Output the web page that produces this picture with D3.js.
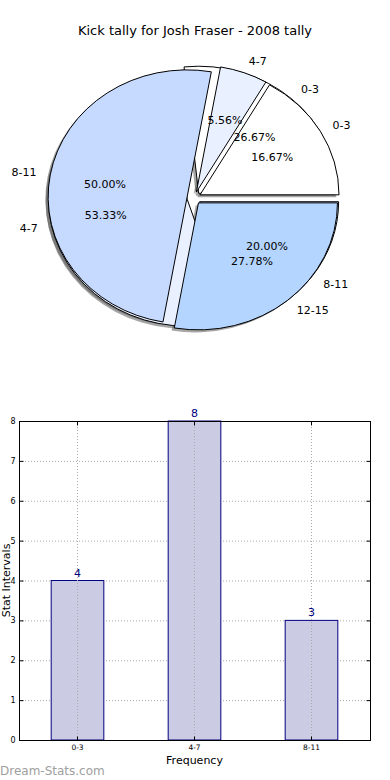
<!DOCTYPE html>
<html>
<head>
<meta charset="utf-8">
<script src="https://cdn.jsdelivr.net/npm/d3@7"></script>
<style>
  html, body { margin: 0; padding: 0; background: #fff; }
  svg { display: block; font-family: "DejaVu Sans", sans-serif; }
</style>
</head>
<body>
<div id="chart"></div>
<script>
// pie de cima (o que aparece inteiro) e pie de baixo (so aparecem as bordas)
const pieLabelsA = ["0-3", "4-7", "8-11", "12-15"];
const pieValuesA = [3, 1, 9, 5];
const pieLabelsB = ["0-3", "4-7", "8-11"];
const pieValuesB = [4, 8, 3];
const pieColors = ["#ffffff", "#e9f0ff", "#c6d9ff", "#b4d5ff"];

// barras
const barCategories = ["0-3", "4-7", "8-11"];
const barValues = [4, 8, 3];
const yTicks = [0, 1, 2, 3, 4, 5, 6, 7, 8];

const W = 390, H = 780;
const svg = d3.select("#chart").append("svg").attr("width", W).attr("height", H);

svg.append("text")
    .attr("x", 195).attr("y", 35)
    .attr("text-anchor", "middle")
    .style("font-size", "13px")
    .text("Kick tally for Josh Fraser - 2008 tally");

// ---- pie (eliptico, como o matplotlib com eixos desiguais)
const cx = 194, cy = 198, rx = 139, ry = 127;
const explode = 0.05;

function montarFatias(valores, labels) {
    const pie = d3.pie().sort(null).startAngle(Math.PI / 2).endAngle(Math.PI / 2 - 2 * Math.PI);
    const total = d3.sum(valores);
    return pie(valores).map((d, i) => {
        const mid = (d.startAngle + d.endAngle) / 2;
        const ux = Math.sin(mid), uy = -Math.cos(mid);
        return {
            ...d,
            label: labels[i],
            cor: pieColors[i],
            pct: (100 * d.value / total).toFixed(2) + "%",
            ux, uy,
            ox: explode * rx * ux,
            oy: explode * ry * uy
        };
    });
}

const fatiasA = montarFatias(pieValuesA, pieLabelsA);
const fatiasB = montarFatias(pieValuesB, pieLabelsB);
const arco = d3.arc().innerRadius(0).outerRadius(1);

const gPie = svg.append("g");

// sombras primeiro, atras de tudo
[...fatiasB, ...fatiasA].forEach(d => {
    gPie.append("path")
        .attr("d", arco(d))
        .attr("transform", `translate(${cx + d.ox - 0.02 * rx},${cy + d.oy + 0.02 * ry}) scale(${rx},${ry})`)
        .attr("fill", "#4d4d4d")
        .attr("opacity", 0.5);
});

function desenharFatias(fatias) {
    fatias.forEach(d => {
        gPie.append("path")
            .attr("d", arco(d))
            .attr("transform", `translate(${cx + d.ox},${cy + d.oy}) scale(${rx},${ry})`)
            .attr("fill", d.cor)
            .attr("stroke", "#000")
            .attr("stroke-width", 1)
            .attr("stroke-linejoin", "round")
            .attr("vector-effect", "non-scaling-stroke");
    });
}
desenharFatias(fatiasB);
desenharFatias(fatiasA);

function escreverTextos(fatias) {
    fatias.forEach(d => {
        const px = cx + d.ox, py = cy + d.oy;
        gPie.append("text")
            .attr("x", px + 1.1 * rx * d.ux)
            .attr("y", py + 1.1 * ry * d.uy)
            .attr("dy", "0.35em")
            .attr("text-anchor", d.ux > 0 ? "start" : "end")
            .style("font-size", "11px")
            .text(d.label);
        gPie.append("text")
            .attr("x", px + 0.6 * rx * d.ux)
            .attr("y", py + 0.6 * ry * d.uy)
            .attr("dy", "0.35em")
            .attr("text-anchor", "middle")
            .style("font-size", "11px")
            .text(d.pct);
    });
}
escreverTextos(fatiasB);
escreverTextos(fatiasA);

// ---- barras
const mLeft = 19, mRight = 370, mTop = 421, mBottom = 740;
const x = d3.scaleBand().domain(barCategories).range([mLeft, mRight]).paddingInner(0.55).paddingOuter(0.275);
const y = d3.scaleLinear().domain([0, 8]).range([mBottom, mTop]);

const gBar = svg.append("g");

// grade pontilhada
gBar.selectAll(".grid-y").data(yTicks.slice(1, -1)).enter().append("line")
    .attr("x1", mLeft).attr("x2", mRight)
    .attr("y1", d => y(d) + 0.5).attr("y2", d => y(d) + 0.5)
    .attr("stroke", "#aaa").attr("stroke-dasharray", "1,2");

gBar.selectAll(".bar").data(barValues).enter().append("rect")
    .attr("x", (d, i) => x(barCategories[i]))
    .attr("y", d => y(d))
    .attr("width", x.bandwidth())
    .attr("height", d => mBottom - y(d))
    .attr("fill", "#cbcbe3")
    .attr("stroke", "#000080")
    .attr("stroke-width", 1);

// grade vertical por cima das barras
gBar.selectAll(".grid-x").data(barCategories).enter().append("line")
    .attr("x1", d => Math.round(x(d) + x.bandwidth() / 2) + 0.5)
    .attr("x2", d => Math.round(x(d) + x.bandwidth() / 2) + 0.5)
    .attr("y1", mTop).attr("y2", mBottom)
    .attr("stroke", "#aaa").attr("stroke-dasharray", "1,2");

gBar.selectAll(".valor").data(barValues).enter().append("text")
    .attr("x", (d, i) => x(barCategories[i]) + x.bandwidth() / 2)
    .attr("y", d => y(d) - 4)
    .attr("text-anchor", "middle")
    .attr("fill", "#000080")
    .style("font-size", "11px")
    .text(d => d);

// moldura
gBar.append("rect")
    .attr("x", mLeft + 0.5).attr("y", mTop + 0.5)
    .attr("width", mRight - mLeft).attr("height", mBottom - mTop)
    .attr("fill", "none").attr("stroke", "#000").attr("stroke-width", 1);

// ticks
const yAxis = d3.axisLeft(y).tickValues(yTicks).tickSize(-4).tickPadding(4);
const gy = gBar.append("g").attr("transform", `translate(${mLeft + 0.5},0)`).call(yAxis);
gy.select(".domain").remove();
gy.selectAll("text").style("font-size", "8px").style("font-family", "DejaVu Sans");

const gyR = gBar.append("g").attr("transform", `translate(${mRight + 0.5},0)`)
    .call(d3.axisRight(y).tickValues(yTicks).tickSize(-4).tickFormat(""));
gyR.select(".domain").remove();

const xAxis = d3.axisBottom(x).tickSize(-4).tickPadding(4);
const gx = gBar.append("g").attr("transform", `translate(0,${mBottom + 0.5})`).call(xAxis);
gx.select(".domain").remove();
gx.selectAll("text").style("font-size", "7.5px").style("font-family", "DejaVu Sans");

const gxT = gBar.append("g").attr("transform", `translate(0,${mTop + 0.5})`)
    .call(d3.axisTop(x).tickSize(-4).tickFormat(""));
gxT.select(".domain").remove();

svg.append("text")
    .attr("x", (mLeft + mRight) / 2).attr("y", 764)
    .attr("text-anchor", "middle")
    .style("font-size", "11px")
    .text("Frequency");

svg.append("text")
    .attr("transform", `translate(9.5,${(mTop + mBottom) / 2}) rotate(-90)`)
    .attr("text-anchor", "middle")
    .style("font-size", "11px")
    .text("Stat Intervals");

svg.append("text")
    .attr("x", 0).attr("y", 775)
    .attr("fill", "#a0a0a0")
    .style("font-size", "12px")
    .text("Dream-Stats.com");
</script>
</body>
</html>
